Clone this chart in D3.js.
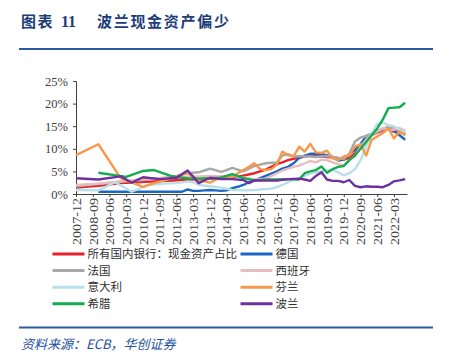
<!DOCTYPE html>
<html>
<head>
<meta charset="utf-8">
<script src="https://cdn.jsdelivr.net/npm/d3@7"></script>
<style>
  body { margin: 0; background: #fff; }
  svg { display: block; }
</style>
</head>
<body>
<svg id="chart" width="453" height="364"></svg>
<script>
// quarterly categories, 2007-12 .. 2022-09
const startMonth = "2007-12";
const endMonth = "2022-10";
const tickLabels = ["2007-12", "2008-09", "2009-06", "2010-03", "2010-12", "2011-09", "2012-06",
  "2013-03", "2013-12", "2014-09", "2015-06", "2016-03", "2016-12", "2017-09", "2018-06",
  "2019-03", "2019-12", "2020-09", "2021-06", "2022-03"];
const yTicks = [0, 5, 10, 15, 20, 25];

// cash assets share, % (null = no observation at that quarter)
const allBanks = [
  1.4, null, null, null, 1.8, null, null, null, 2.4, null,
  null, null, null, null, null, null, null, null, null, 3.1,
  null, null, null, null, null, 3.5, null, null, null, 3.8,
  null, null, 4.6, null, 5.4, 6.0, 6.6, 7.0, 7.5, 7.8,
  8.0, 8.3, 8.5, 8.4, 8.3, 8.2, 8.1, 7.9, 7.6, 8.0,
  9.0, 10.5, 11.8, 13.0, 13.6, 14.0, 14.5, 13.8, 14.3, 13.3];
const germany = [
  null, null, null, null, 0.5, null, null, null, null, null,
  0.5, null, null, null, null, null, 0.5, null, null, 0.5,
  1.0, 0.7, 0.7, 0.8, 0.9, 0.8, 0.7, 0.8, 1.3, 1.6,
  2.0, 2.6, 3.0, 3.5, 4.0, 4.5, 5.0, 5.6, 6.0, 6.8,
  8.0, 8.5, 8.9, 8.9, 8.8, 8.6, 8.2, 7.4, 7.6, 8.8,
  9.8, 11.0, 12.8, 13.3, 13.8, 14.3, 14.6, 14.0, 13.0, 12.0];
const france = [
  1.7, null, null, null, 2.2, null, null, null, 2.7, null,
  null, null, 3.1, null, null, null, 3.6, null, 4.0, null,
  4.6, 4.7, 4.8, 5.2, 5.6, 5.3, 4.9, 5.3, 5.8, 5.4,
  5.0, 5.6, 6.2, 6.5, 6.8, 6.9, 6.9, 8.5, 8.8, 8.3,
  8.4, 8.3, 8.3, 8.2, 8.3, 8.4, 8.2, 8.0, 7.7, 8.9,
  11.6, 12.5, 12.8, 13.3, 13.7, 14.3, 15.0, 14.5, 14.2, 14.0];
const spain = [
  2.0, null, null, null, 2.3, null, null, null, 2.8, null,
  null, null, 3.3, null, null, null, 3.6, null, null, null,
  3.8, null, 3.9, null, 4.0, null, 3.9, null, 4.0, null,
  3.6, null, 3.3, null, 3.4, 4.0, 4.6, 5.2, 5.6, 6.0,
  6.3, 6.8, 7.3, 7.0, 7.6, 7.5, 7.0, 6.6, 6.3, 7.5,
  8.5, 10.5, 12.0, 13.0, 14.0, 14.6, 14.3, 14.2, 14.6, 14.0];
const italy = [
  0.9, null, null, null, 0.8, null, null, 2.6, null, null,
  0.5, null, null, 2.0, null, null, 2.3, null, 2.4, null,
  2.8, 2.6, 2.0, null, 1.7, null, 1.4, null, 0.9, null,
  0.8, null, 0.9, 1.0, null, 1.2, 1.5, 2.0, 2.6, 3.1,
  3.5, 4.0, 4.5, 4.8, 5.0, 5.2, 5.4, 4.8, 4.1, 4.6,
  5.5, 7.5, 10.5, 13.5, 15.5, 15.8, 15.2, 15.0, 14.2, 13.6];
const finland = [
  8.6, null, null, null, 11.0, null, null, null, 3.5, null,
  null, null, 1.6, null, 2.4, null, 3.1, null, 3.8, null,
  4.7, 3.8, 3.1, null, 2.5, null, 3.8, null, 3.8, null,
  5.3, 6.0, 6.8, 5.5, 5.3, 5.5, 6.5, 9.4, 8.6, 8.3,
  10.5, 9.4, 11.1, 9.2, 9.1, 9.6, 7.9, 7.5, 8.3, 8.6,
  10.5, 11.0, 8.5, 12.0, 12.7, 13.5, 14.5, 12.3, 13.8, 13.0];
const greece = [
  null, null, null, null, 4.7, null, null, null, null, 3.8,
  null, null, 5.1, null, 5.3, null, null, 4.0, 3.7, null,
  3.5, null, 3.4, null, 3.5, null, 3.6, null, 4.4, null,
  3.5, null, 3.0, null, 3.2, null, 3.2, null, 3.3, null,
  3.2, 4.6, 5.0, 5.3, 6.1, 4.7, 5.5, 6.0, 6.2, 7.5,
  8.5, 10.0, 11.5, 13.0, 14.5, 16.5, 19.0, 19.1, 19.2, 20.2];
const poland = [
  3.5, null, null, null, 3.2, null, null, null, 3.9, null,
  2.5, null, 3.7, null, null, 3.3, null, null, 3.6, null,
  5.2, null, 2.4, null, 3.6, null, 3.3, null, 3.3, null,
  3.1, 2.4, 3.0, null, 3.0, null, 3.0, null, 3.3, null,
  3.4, 3.2, 2.9, 4.0, 4.8, 3.2, 2.9, 2.9, 2.6, 3.1,
  1.8, 1.5, 1.7, 1.6, 1.6, 1.5, 2.0, 2.8, 3.0, 3.3];

const seriesNames = ["所有国内银行：现金资产占比", "德国", "法国", "西班牙", "意大利", "芬兰", "希腊", "波兰"];
const seriesColors = ["#e8212b", "#1a66c2", "#a8a8a8", "#e8bcbc", "#b9dfea", "#f7984a", "#12ad4d", "#7030a0"];
const seriesValues = [allBanks, germany, france, spain, italy, finland, greece, poland];

const parseMonth = d3.utcParse("%Y-%m");
const quarters = d3.utcMonth.range(parseMonth(startMonth), parseMonth(endMonth), 3);

const svg = d3.select("#chart");
const cjk = "'Noto Sans CJK SC', sans-serif";
const serif = "'Liberation Serif', 'DejaVu Serif', serif";

// header
const title = svg.append("text")
  .attr("y", 27)
  .attr("fill", "#1d3d78")
  .style("font-weight", "bold")
  .style("font-size", "15px")
  .style("font-family", cjk);
title.append("tspan").attr("x", 21).style("letter-spacing", "1.5px").text("图表");
title.append("tspan").attr("x", 61).style("font-family", serif).style("font-size", "16px").text("11");
title.append("tspan").attr("x", 97).style("letter-spacing", "1.7px").text("波兰现金资产偏少");

svg.append("line").attr("x1", 19).attr("x2", 433).attr("y1", 49).attr("y2", 49)
  .attr("stroke", "#2c5a9c").attr("stroke-width", 2);

// scales
const x = d3.scaleUtc().domain([parseMonth(startMonth), parseMonth(endMonth)]).range([76, 407]);
const y = d3.scaleLinear().domain([0, 25]).range([194, 81]);

// y axis
const yAxis = svg.append("g")
  .attr("transform", "translate(76,0)")
  .call(d3.axisLeft(y).tickValues(yTicks).tickSize(3).tickPadding(5).tickFormat(d => d + "%"));
yAxis.selectAll("text")
  .style("font-family", serif).style("font-size", "12.5px").attr("fill", "#404040");

// series lines
const line = d3.line()
  .x(d => x(d[0]))
  .y(d => y(d[1]));

const plot = svg.append("g");
seriesValues.forEach((vals, k) => {
  const pts = quarters.map((q, i) => [q, vals[i]]).filter(d => d[1] != null);
  plot.append("path")
    .attr("d", line(pts))
    .attr("fill", "none")
    .attr("stroke", seriesColors[k])
    .attr("stroke-width", 2.4)
    .attr("stroke-linejoin", "round");
});

// x axis
const xAxis = svg.append("g")
  .attr("transform", "translate(0,194)")
  .call(d3.axisBottom(x).tickValues(tickLabels.map(parseMonth)).tickSize(3).tickSizeOuter(0)
    .tickFormat(d3.utcFormat("%Y-%m")));
xAxis.selectAll("text")
  .attr("transform", "rotate(-90)")
  .attr("text-anchor", "end")
  .attr("x", -4)
  .attr("y", 0)
  .attr("dy", "0.35em")
  .attr("textLength", 47)
  .attr("lengthAdjust", "spacingAndGlyphs")
  .style("font-family", serif).style("font-size", "12px").attr("fill", "#404040");

[yAxis, xAxis].forEach(g => {
  g.select(".domain").attr("stroke", "#404040");
  g.selectAll(".tick line").attr("stroke", "#404040");
});

// legend, two columns
const legend = svg.append("g");
seriesNames.forEach((name, k) => {
  const col = k % 2, row = Math.floor(k / 2);
  const lx = col ? 240.5 : 52.5;
  const ly = 254 + row * 16.6;
  legend.append("line")
    .attr("x1", lx).attr("x2", lx + 32).attr("y1", ly).attr("y2", ly)
    .attr("stroke", seriesColors[k]).attr("stroke-width", 3);
  legend.append("text")
    .attr("x", lx + 35).attr("y", ly).attr("dy", "0.36em")
    .attr("fill", "#303030")
    .style("font-family", cjk).style("font-size", "11.5px")
    .text(name);
});

// footer
svg.append("line").attr("x1", 19).attr("x2", 433).attr("y1", 327.5).attr("y2", 327.5)
  .attr("stroke", "#2c5a9c").attr("stroke-width", 2);
svg.append("text")
  .attr("x", 21).attr("y", 348.5)
  .attr("fill", "#2452a0")
  .style("font-style", "italic")
  .style("font-size", "13px")
  .style("font-family", cjk)
  .text("资料来源：ECB，华创证券");
</script>
</body>
</html>
